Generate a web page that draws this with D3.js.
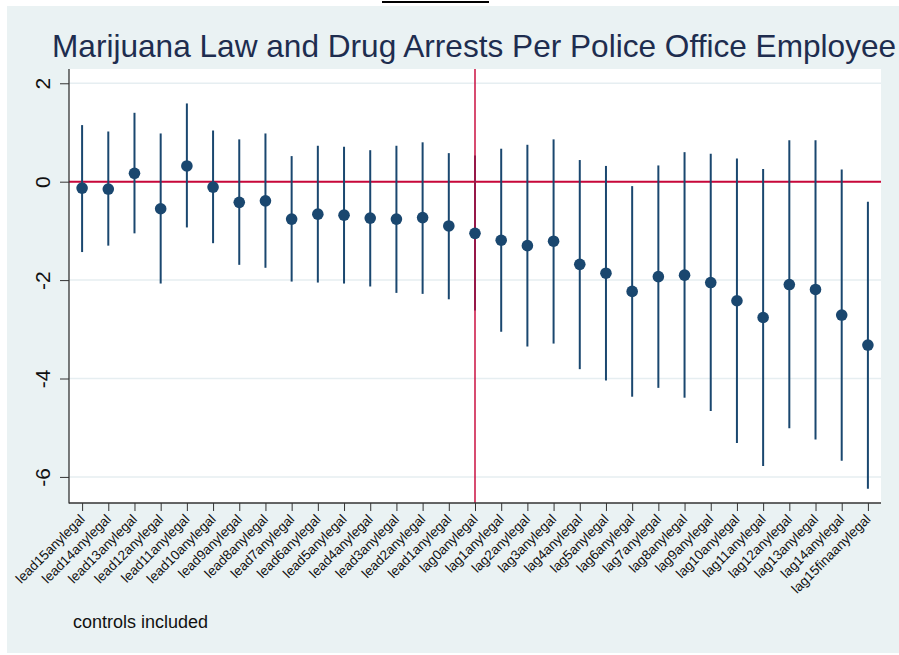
<!DOCTYPE html>
<html>
<head>
<meta charset="utf-8">
<script src="https://cdn.jsdelivr.net/npm/d3@7"></script>
<style>
  body { margin: 0; background: #fff; }
  svg { display: block; font-family: "Liberation Sans", Arial, Helvetica, sans-serif; }
</style>
</head>
<body>
<div id="visual"></div>
<script>
// event-study terms, leads then lags
var terms = ["lead15anylegal", "lead14anylegal", "lead13anylegal", "lead12anylegal", "lead11anylegal",
    "lead10anylegal", "lead9anylegal", "lead8anylegal", "lead7anylegal", "lead6anylegal",
    "lead5anylegal", "lead4anylegal", "lead3anylegal", "lead2anylegal", "lead1anylegal",
    "lag0anylegal", "lag1anylegal", "lag2anylegal", "lag3anylegal", "lag4anylegal",
    "lag5anylegal", "lag6anylegal", "lag7anylegal", "lag8anylegal", "lag9anylegal",
    "lag10anylegal", "lag11anylegal", "lag12anylegal", "lag13anylegal", "lag14anylegal",
    "lag15finaanylegal"];

var coef = [-0.13, -0.15, 0.17, -0.55, 0.32, -0.11, -0.42, -0.39, -0.76, -0.66,
    -0.68, -0.74, -0.76, -0.73, -0.90, -1.05, -1.19, -1.30, -1.21, -1.68,
    -1.86, -2.23, -1.93, -1.90, -2.05, -2.42, -2.76, -2.09, -2.19, -2.71, -3.32];

var upper = [1.15, 1.02, 1.40, 0.98, 1.59, 1.04, 0.86, 0.98, 0.52, 0.73,
    0.71, 0.64, 0.73, 0.80, 0.58, 0.53, 0.67, 0.75, 0.86, 0.44,
    0.32, -0.09, 0.33, 0.60, 0.57, 0.47, 0.26, 0.84, 0.84, 0.25, -0.41];

var lower = [-1.43, -1.30, -1.05, -2.07, -0.93, -1.25, -1.69, -1.75, -2.03, -2.05,
    -2.07, -2.13, -2.26, -2.28, -2.39, -2.62, -3.05, -3.35, -3.29, -3.81,
    -4.04, -4.37, -4.19, -4.39, -4.66, -5.31, -5.78, -5.01, -5.24, -5.67, -6.24];

var yTicks = [2, 0, -2, -4, -6];

var width = 899, height = 655;
var plot = {left: 69, right: 881, top: 69, bottom: 503};
var navy = "#1a476f", red = "#c8073a", bg = "#eaf2f3";

var svg = d3.select("#visual").append("svg")
    .attr("width", width)
    .attr("height", height);

// outer graph region
svg.append("rect")
    .attr("x", 7).attr("y", 6)
    .attr("width", width - 7).attr("height", height - 8)
    .attr("fill", bg);

// cut-off heading underline above the graph
svg.append("rect")
    .attr("x", 382).attr("y", 1)
    .attr("width", 107).attr("height", 2)
    .attr("fill", "#000");

svg.append("rect")
    .attr("x", plot.left).attr("y", plot.top)
    .attr("width", plot.right - plot.left).attr("height", plot.bottom - plot.top)
    .attr("fill", "#fff");

var x = d3.scalePoint()
    .domain(terms)
    .range([plot.left, plot.right])
    .padding(0.5);

var y = d3.scaleLinear()
    .domain([-6.53, 2.29])
    .range([plot.bottom, plot.top]);

// gridlines
svg.append("g")
    .selectAll("line")
    .data(yTicks)
    .enter().append("line")
    .attr("x1", plot.left).attr("x2", plot.right)
    .attr("y1", function (d) { return y(d); })
    .attr("y2", function (d) { return y(d); })
    .attr("stroke", "#e6eef1")
    .attr("stroke-width", 1.5);

// reference lines
svg.append("line")
    .attr("x1", plot.left).attr("x2", plot.right)
    .attr("y1", y(0)).attr("y2", y(0))
    .attr("stroke", red).attr("stroke-width", 2);

// confidence intervals
svg.append("g")
    .selectAll("line")
    .data(terms)
    .enter().append("line")
    .attr("x1", function (d) { return x(d); })
    .attr("x2", function (d) { return x(d); })
    .attr("y1", function (d, i) { return y(upper[i]); })
    .attr("y2", function (d, i) { return y(lower[i]); })
    .attr("stroke", navy)
    .attr("stroke-width", 2);

svg.append("line")
    .attr("x1", x("lag0anylegal")).attr("x2", x("lag0anylegal"))
    .attr("y1", plot.top).attr("y2", plot.bottom)
    .attr("stroke", red).attr("stroke-width", 1.6)
    .attr("opacity", 0.9);

svg.append("g")
    .selectAll("circle")
    .data(terms)
    .enter().append("circle")
    .attr("cx", function (d) { return x(d); })
    .attr("cy", function (d, i) { return y(coef[i]); })
    .attr("r", 5.8)
    .attr("fill", navy);

// y axis
var yAxis = svg.append("g")
    .attr("transform", "translate(" + plot.left + ",0)")
    .call(d3.axisLeft(y).tickValues(yTicks).tickSize(9).tickPadding(0).tickSizeOuter(0)
        .tickFormat(function (d) { return d; }));
yAxis.select(".domain").remove();
yAxis.selectAll("line").attr("stroke", "#333");
yAxis.selectAll("text").remove();
yAxis.selectAll(".tick").append("text")
    .attr("transform", "translate(-19,0) rotate(-90)")
    .attr("text-anchor", "middle")
    .attr("fill", "#111")
    .style("font-size", "21px")
    .text(function (d) { return d; });

svg.append("line")
    .attr("x1", plot.left).attr("x2", plot.left)
    .attr("y1", plot.top).attr("y2", plot.bottom + 0.5)
    .attr("stroke", "#333").attr("stroke-width", 1.3);

// x axis
var xAxis = svg.append("g")
    .attr("transform", "translate(0," + plot.bottom + ")")
    .call(d3.axisBottom(x).tickSize(8).tickSizeOuter(0));
xAxis.select(".domain").remove();
xAxis.selectAll("line").attr("stroke", "#333");
xAxis.selectAll("text")
    .attr("y", 0).attr("dy", 0)
    .attr("transform", "translate(3,17) rotate(-45)")
    .attr("text-anchor", "end")
    .attr("fill", "#111")
    .style("font-size", "13.5px");

svg.append("line")
    .attr("x1", plot.left).attr("x2", plot.right)
    .attr("y1", plot.bottom).attr("y2", plot.bottom)
    .attr("stroke", "#333").attr("stroke-width", 1.3);

svg.append("text")
    .attr("x", 52).attr("y", 57)
    .attr("fill", "#1e2d4f")
    .style("font-size", "31.6px")
    .text("Marijuana Law and Drug Arrests Per Police Office Employee");

svg.append("text")
    .attr("x", 73).attr("y", 628)
    .attr("fill", "#111")
    .style("font-size", "18px")
    .text("controls included");
</script>
</body>
</html>
